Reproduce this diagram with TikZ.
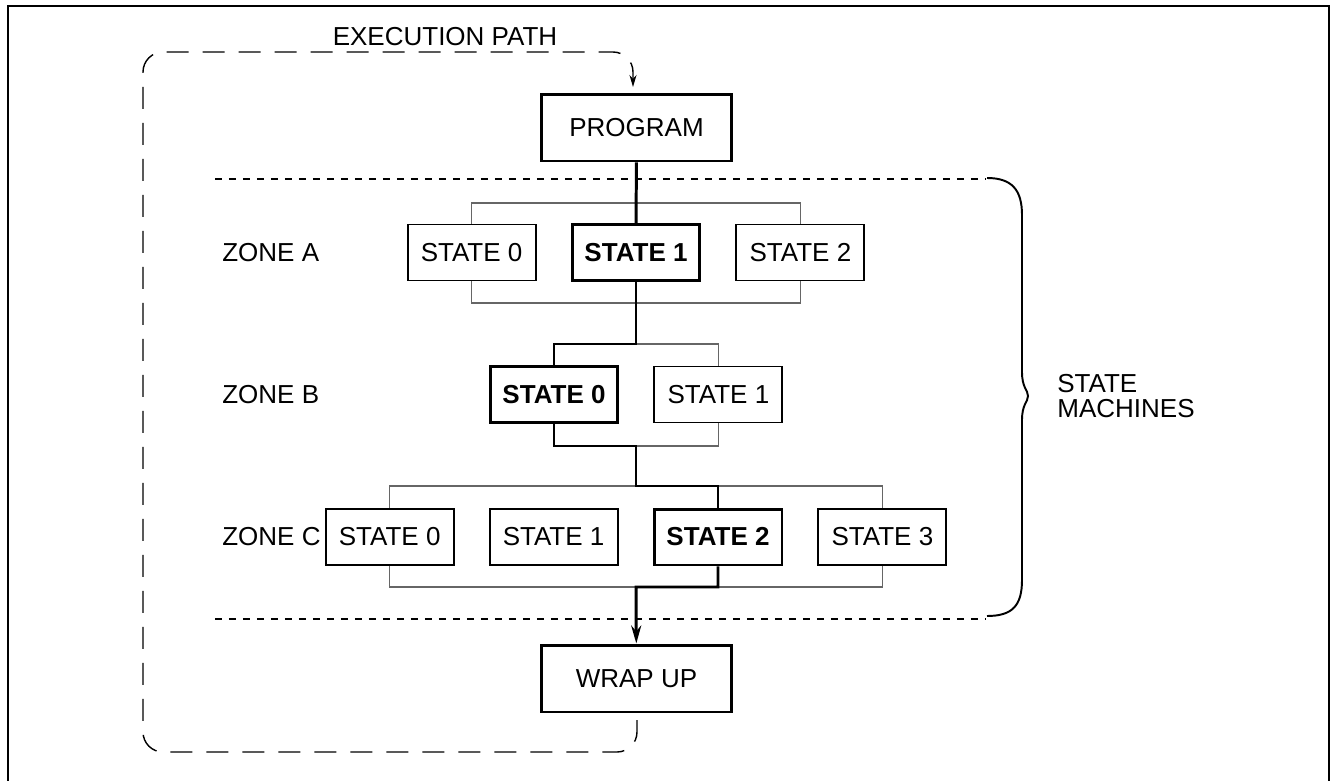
\documentclass[tikz,border=0pt]{standalone}
\usepackage{fontspec}
\setmainfont{Liberation Sans}
\usepackage{tikz}
\usetikzlibrary{positioning,arrows.meta}
\newcommand{\lblfont}{\fontsize{14.8pt}{17pt}\selectfont}

\begin{document}
\begin{tikzpicture}[x=0.02cm, y=-0.02cm, node distance=0.68cm,
  state/.style={draw, line width=1.1pt, minimum width=2.56cm, minimum height=1.12cm,
                inner sep=0pt, font=\lblfont},
  active/.style={state, line width=1.7pt, font=\lblfont\bfseries},
  endbox/.style={draw, line width=1.7pt, minimum width=3.82cm, minimum height=1.34cm,
                 inner sep=0pt, font=\lblfont},
  zonelbl/.style={anchor=west, inner sep=0pt, font=\lblfont},
  rail/.style={draw=black!60, line width=0.6pt},
  spine/.style={line width=1.7pt},
  sep/.style={line width=1.1pt, dash pattern=on 0.14cm off 0.14cm},
  execpath/.style={line width=0.8pt, dash pattern=on 0.44cm off 0.28cm,
                   rounded corners=0.4cm, -{Stealth[length=0.24cm,width=0.14cm]}}
]
\useasboundingbox (0,0) rectangle (1333,781);
\draw[line width=1.1pt] (8,6) rectangle (1329,800);

% start and end
\node[endbox] (prog) at (636.5,127.5) {PROGRAM};
\node[endbox] (wrap) at (636.5,678.5) {WRAP UP};

% zones
\node[active] (a1) at (636,252.5) {STATE 1};
\node[state, left=of a1] (a0) {STATE 0};
\node[state, right=of a1] (a2) {STATE 2};
\node[active] (b0) at (554,394.5) {STATE 0};
\node[state, right=of b0] (b1) {STATE 1};
\node[active] (c2) at (718,537) {STATE 2};
\node[state, left=of c2] (c1) {STATE 1};
\node[state, left=of c1] (c0) {STATE 0};
\node[state, right=of c2] (c3) {STATE 3};
\node[zonelbl] (za) at (222,252.5) {ZONE A};
\node[zonelbl] (zb) at (222,394.5) {ZONE B};
\node[zonelbl] (zc) at (222,537) {ZONE C};

% rail heights
\coordinate (aT) at (636,203); \coordinate (aB) at (636,303);
\coordinate (bT) at (636,344); \coordinate (bB) at (636,446);
\coordinate (cT) at (636,486); \coordinate (cB) at (636,587);

\draw[rail] (a0) |- (aT) -| (a2); \draw[rail] (a0) |- (aB) -| (a2);
\draw[rail] (b0) |- (bT) -| (b1); \draw[rail] (b0) |- (bB) -| (b1);
\draw[rail] (c0) |- (cT) -| (c3); \draw[rail] (c0) |- (cB) -| (c3);

% path taken
\draw[spine] (prog) -- (a1);
\draw[spine] (a1) -- (bT) -| (b0);
\draw[spine] (b0) |- (bB) -- (cT) -| (c2);
\draw[spine, -{Stealth[length=0.36cm,width=0.2cm]}] (c2) |- (cB) -- (wrap);

% state machine band
\draw[sep] (215,179) -- (985,179);
\draw[sep] (215,619) -- (985,619);
\draw[line width=1.1pt] (987,178) .. controls (1012,178) and (1022,190) .. (1022,215)
  -- (1022,372) .. controls (1022,388) and (1028,390) .. (1028,396)
  .. controls (1028,402) and (1022,404) .. (1022,420)
  -- (1022,580) .. controls (1022,606) and (1012,616) .. (987,616);
\node[anchor=west, align=left, inner sep=0pt, font=\lblfont] (sm) at (1057,396)
  {STATE\\[-3pt]MACHINES};

% execution path
\coordinate (ex0) at (637,720);
\coordinate (exbl) at (143,752);
\coordinate (extl) at (143,52);
\coordinate (ex1) at (633,87);
\draw[execpath] (ex0) |- (exbl) -- (extl) -| (ex1);
\node[anchor=south, inner sep=0pt, font=\lblfont] (ept) at (445,46) {EXECUTION PATH};
\end{tikzpicture}
\end{document}
